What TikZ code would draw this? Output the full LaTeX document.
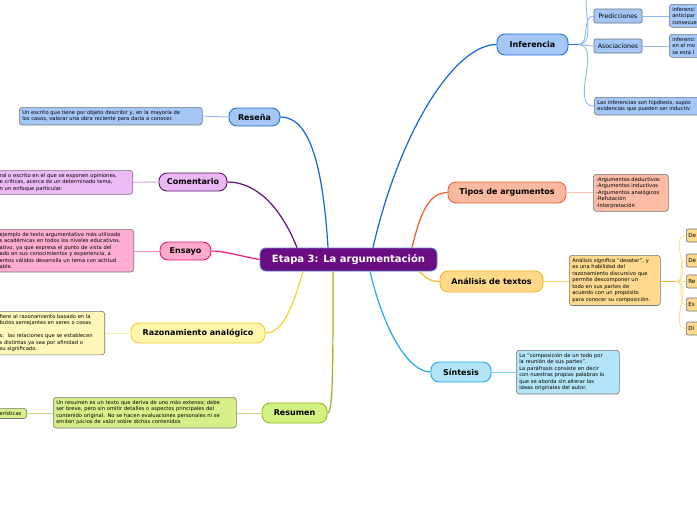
\documentclass[tikz,border=0pt]{standalone}
\usepackage{fontspec}
\setmainfont{DejaVu Sans}

\begin{document}
\begin{tikzpicture}[x=1pt,y=1pt,yscale=-1,xscale=1,
  topic/.style={draw, line width=0.9pt, rounded corners=8pt, font=\bfseries\fontsize{8}{9}\selectfont, minimum height=19pt, inner sep=1pt},
  subtopic/.style={draw={rgb, 255:red, 105; green, 110; blue, 120}, line width=0.6pt, rounded corners=2pt, font=\fontsize{6.2}{7}\selectfont, minimum height=14pt, inner sep=2pt},
  detail/.style={draw={rgb, 255:red, 118; green, 118; blue, 118}, line width=0.6pt, rounded corners=3pt, font=\fontsize{5.2}{6.5}\selectfont, align=left, inner sep=3pt},
  branch/.style={line width=1.2pt},
  twig/.style={line width=0.9pt}
]
\useasboundingbox (0,0) rectangle (697,520);
\clip (0,0) rectangle (697,520);

%Central topic
\node [draw={rgb, 255:red, 95; green, 130; blue, 205}, line width=0.9pt, fill={rgb, 255:red, 106; green, 13; blue, 131}, text=white, rounded corners=6pt, minimum width=177pt, minimum height=23pt, font=\bfseries\fontsize{10}{12}\selectfont] (etapa) at (348.5,259.5) {Etapa 3: La argumentación};

%Main topics
\node [topic, draw={rgb, 255:red, 30; green, 110; blue, 220}, fill={rgb, 255:red, 164; green, 199; blue, 247}, minimum width=71pt, minimum height=21pt] (inferencia) at (532.5,44.5) {Inferencia};
\node [topic, draw={rgb, 255:red, 30; green, 110; blue, 220}, fill={rgb, 255:red, 164; green, 199; blue, 247}, minimum width=51pt, minimum height=18pt] (resena) at (254.5,117) {Reseña};
\node [topic, draw={rgb, 255:red, 90; green, 20; blue, 110}, fill={rgb, 255:red, 234; green, 182; blue, 244}, minimum width=68pt, minimum height=18pt] (comentario) at (193,182) {Comentario};
\node [topic, draw={rgb, 255:red, 230; green, 20; blue, 110}, fill={rgb, 255:red, 255; green, 170; blue, 205}, minimum width=51pt, minimum height=18pt] (ensayo) at (185.5,251) {Ensayo};
\node [topic, draw={rgb, 255:red, 235; green, 210; blue, 40}, fill={rgb, 255:red, 255; green, 246; blue, 172}, minimum width=134pt, minimum height=20pt] (razonamiento) at (198,333) {Razonamiento analógico};
\node [topic, draw={rgb, 255:red, 140; green, 190; blue, 30}, fill={rgb, 255:red, 212; green, 240; blue, 128}, minimum width=65pt, minimum height=20pt] (resumen) at (294.5,413) {Resumen};
\node [topic, draw={rgb, 255:red, 30; green, 170; blue, 235}, fill={rgb, 255:red, 178; green, 228; blue, 250}, minimum width=60pt, minimum height=20pt] (sintesis) at (461,372) {Síntesis};
\node [topic, draw={rgb, 255:red, 245; green, 180; blue, 40}, fill={rgb, 255:red, 255; green, 216; blue, 136}, minimum width=103pt, minimum height=21pt] (analisis) at (491.5,281.5) {Análisis de textos};
\node [topic, draw={rgb, 255:red, 240; green, 95; blue, 50}, fill={rgb, 255:red, 251; green, 185; blue, 160}, minimum width=118pt, minimum height=21pt] (tipos) at (507,192.5) {Tipos de argumentos};

%Branches
\draw [branch, color={rgb, 255:red, 20; green, 100; blue, 215}] ([xshift=24.5pt]etapa.north) .. controls (400,130) and (455,44.5) .. (inferencia.west);
\draw [branch, color={rgb, 255:red, 20; green, 100; blue, 215}] ([xshift=-20.5pt]etapa.north) .. controls (322,150) and (305,117) .. (resena.east);
\draw [branch, color={rgb, 255:red, 90; green, 20; blue, 110}] ([xshift=-51.5pt]etapa.north) .. controls (280,205) and (255,182) .. (comentario.east);
\draw [branch, color={rgb, 255:red, 235; green, 25; blue, 115}] (etapa.west) .. controls (240,256) and (225,251) .. (ensayo.east);
\draw [branch, color={rgb, 255:red, 240; green, 215; blue, 40}] ([xshift=-45.5pt]etapa.south) .. controls (292,310) and (282,333) .. (razonamiento.east);
\draw [branch, color={rgb, 255:red, 140; green, 185; blue, 30}] ([xshift=-15.5pt]etapa.south) .. controls (333,370) and (333,413) .. (resumen.east);
\draw [branch, color={rgb, 255:red, 30; green, 170; blue, 235}] ([xshift=21.5pt]etapa.south) .. controls (385,335) and (410,372) .. (sintesis.west);
\draw [branch, color={rgb, 255:red, 248; green, 185; blue, 40}] ([xshift=-18pt]etapa.south east) .. controls (428,280) and (432,281.5) .. (analisis.west);
\draw [branch, color={rgb, 255:red, 240; green, 90; blue, 40}] ([xshift=63.5pt]etapa.north) .. controls (420,215) and (428,192.5) .. (tipos.west);

%Inferencia
\coordinate (infhub) at (578,44.5);
\coordinate (infup) at (596,-14);
\node [subtopic, fill={rgb, 255:red, 164; green, 199; blue, 247}, minimum width=48pt] (predicciones) at (618,16) {Predicciones};
\node [subtopic, fill={rgb, 255:red, 164; green, 199; blue, 247}, minimum width=48pt] (asociaciones) at (618,46) {Asociaciones};
\node [detail, fill={rgb, 255:red, 164; green, 199; blue, 247}, anchor=north west, text width=60pt] (preddet) at (669,4) {inferenci\\anticipar\\consecue};
\node [detail, fill={rgb, 255:red, 164; green, 199; blue, 247}, anchor=north west, text width=60pt] (asocdet) at (669,34) {inferenci\\en el mo\\se está l};
\node [detail, fill={rgb, 255:red, 164; green, 199; blue, 247}, anchor=north west, text width=160pt] (inflargo) at (594,97) {Las inferencias son hipótesis, supos\\evidencias que pueden ser inductiv};
\draw [twig, color={rgb, 255:red, 40; green, 110; blue, 220}] (inferencia.east) -- (infhub);
\draw [twig, color={rgb, 255:red, 140; green, 185; blue, 245}] (infhub) to[out=0,in=180] (infup);
\draw [twig, color={rgb, 255:red, 140; green, 185; blue, 245}] (infhub) to[out=0,in=180] (predicciones.west);
\draw [twig, color={rgb, 255:red, 140; green, 185; blue, 245}] (infhub) to[out=0,in=180] (asociaciones.west);
\draw [twig, color={rgb, 255:red, 140; green, 185; blue, 245}] (infhub) to[out=0,in=180] (inflargo.west);
\draw [twig, color={rgb, 255:red, 140; green, 185; blue, 245}] (predicciones.east) -- (preddet.west |- predicciones.east);
\draw [twig, color={rgb, 255:red, 140; green, 185; blue, 245}] (asociaciones.east) -- (asocdet.west |- asociaciones.east);

%Reseña
\node [detail, fill={rgb, 255:red, 164; green, 199; blue, 247}, anchor=north west, text width=177pt] (resdet) at (19,107) {Un escrito que tiene por objeto describir y, en la mayoría de\\los casos, valorar una obra reciente para darla a conocer.};
\draw [twig, color={rgb, 255:red, 140; green, 185; blue, 245}] (resena.west) -- (resdet.east);

%Comentario
\node [detail, fill={rgb, 255:red, 236; green, 186; blue, 246}, anchor=north east, text width=130pt] (comdet) at (133,170) {ral o escrito en el que se exponen opiniones,\\e críticas, acerca de un determinado tema,\\n un enfoque particular.};
\draw [twig, color={rgb, 255:red, 205; green, 165; blue, 215}] (comentario.west) -- (comdet.east);

%Ensayo
\node [detail, fill={rgb, 255:red, 255; green, 174; blue, 210}, anchor=north east, text width=131pt] (ensdet) at (134,229) {ejemplo de texto argumentativo más utilizado\\s académicas en todos los niveles educativos.\\ativo, ya que expresa el punto de vista del\\ado en sus conocimientos y experiencia, a\\entos válidos desarrolla un tema con actitud\\able.};
\draw [twig, color={rgb, 255:red, 250; green, 140; blue, 185}] (ensayo.west) -- (ensdet.east |- ensayo.west);

%Razonamiento analogico
\node [detail, fill={rgb, 255:red, 255; green, 248; blue, 186}, anchor=north east, text width=102pt] (razdet) at (105,311) {fiere al razonamiento basado en la\\butos semejantes en seres o cosas\\~\\s:\ \ las relaciones que se establecen\\s distintas ya sea por afinidad o\\su significado.};
\draw [twig, color={rgb, 255:red, 250; green, 236; blue, 165}] (razonamiento.west) -- (razdet.east |- razonamiento.west);

%Resumen
\node [detail, fill={rgb, 255:red, 216; green, 240; blue, 138}, anchor=north west, text width=177pt] (resudet) at (53,397) {Un resumen es un texto que deriva de uno más extenso; debe\\ser breve, pero sin omitir detalles o aspectos principales del\\contenido original. No se hacen evaluaciones personales ni se\\emiten juicios de valor sobre dichos contenidos};
\node [detail, fill={rgb, 255:red, 216; green, 240; blue, 138}, anchor=north east, text width=24pt] (caract) at (27,408) {erísticas};
\draw [twig, color={rgb, 255:red, 190; green, 222; blue, 120}] (resumen.west) -- (resudet.east |- resumen.west);
\draw [twig, color={rgb, 255:red, 190; green, 222; blue, 120}] (resudet.west |- caract.east) -- (caract.east);

%Sintesis
\node [detail, fill={rgb, 255:red, 180; green, 228; blue, 250}, anchor=north west, text width=97pt] (sintdet) at (516,350) {La “composición de un todo por\\la reunión de sus partes”.\\La paráfrasis consiste en decir\\con nuestras propias palabras lo\\que se aborda sin alterar las\\ideas originales del autor.};
\draw [twig, color={rgb, 255:red, 130; green, 205; blue, 245}] (sintesis.east) -- (sintdet.west |- sintesis.east);

%Analisis de textos
\coordinate (anahub) at (676,281.5);
\node [detail, fill={rgb, 255:red, 255; green, 217; blue, 142}, anchor=north west, text width=85pt] (anadet) at (569,255) {Análisis significa “desatar”, y\\es una habilidad del\\razonamiento discursivo que\\permite descomponer un\\todo en sus partes de\\acuerdo con un propósito\\para conocer su composición.};
\draw [twig, color={rgb, 255:red, 250; green, 205; blue, 110}] (analisis.east) -- (anadet.west |- analisis.east);
\draw [twig, color={rgb, 255:red, 248; green, 185; blue, 40}] (anadet.east |- anahub) -- (anahub);
\foreach \i/\y/\txt in {1/235.5/De, 2/260.5/De, 3/281.5/Re, 4/304.5/Es, 5/328.5/Di}{
  \node [subtopic, fill={rgb, 255:red, 255; green, 217; blue, 142}, anchor=west, minimum height=13pt, text width=24pt, align=left, font=\fontsize{5.6}{6.5}\selectfont] (ana\i) at (686,\y) {\txt};
  \draw [twig, color={rgb, 255:red, 252; green, 222; blue, 150}] (anahub) to[out=0,in=180] (ana\i.west);
}

%Tipos de argumentos
\node [detail, fill={rgb, 255:red, 251; green, 187; blue, 164}, anchor=north west, text width=69pt] (tipdet) at (593,174) {-Argumentos deductivos\\-Argumentos inductivos\\-Argumentos analógicos\\-Refutación\\-Interpretación};
\draw [twig, color={rgb, 255:red, 250; green, 195; blue, 175}] (tipos.east) -- (tipdet.west |- tipos.east);

\end{tikzpicture}
\end{document}
